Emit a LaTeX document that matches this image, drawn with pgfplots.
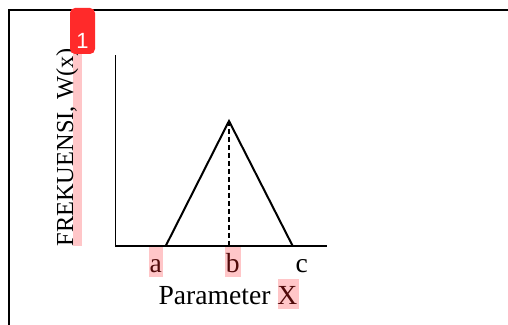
\documentclass[border=0pt]{standalone}
\usepackage{fontspec}
\setmainfont{Liberation Serif}
\newfontfamily\badgefont{Liberation Sans}
\usepackage{pgfplots}
\pgfplotsset{compat=1.18}
\definecolor{hl}{RGB}{255,198,200}
\definecolor{hltext}{RGB}{80,10,10}
\definecolor{badge}{RGB}{255,42,42}

\begin{document}
\begin{tikzpicture}[x=0.5pt,y=-0.5pt]
\useasboundingbox (0,0) rectangle (508,325);
% outer frame (cut off at right and bottom)
\draw[line width=1pt] (9,326) -- (9,10.5) -- (509,10.5);
% highlights behind text
\fill[hl] (73,50) rectangle (82,246);
\fill[hl] (149,247) rectangle (163,277);
\fill[hl] (225,247) rectangle (241,277);
\fill[hl] (278,279) rectangle (299,309);
\coordinate (O) at (115,246);
\begin{axis}[
  at={(O)}, anchor=origin,
  scale only axis,
  width=106pt, height=95.5pt,
  xmin=0, xmax=212, ymin=0, ymax=191,
  axis lines*=left,
  axis line style={-},
  x axis line style={line width=1pt},
  y axis line style={line width=0.5pt},
  ytick=\empty,
  xtick={40.7,117.7,186.7},
  xticklabels={\color{hltext}a,\color{hltext}b,c},
  major tick length=0pt,
  xticklabel style={anchor=base, yshift=-13.3pt, font=\fontsize{13.8}{16}\selectfont},
  xlabel={Parameter \textcolor{hltext}{X}},
  xlabel style={at={(axis description cs:0.533,-0.304)}, anchor=base,
    font=\fontsize{13.8}{16}\selectfont},
  ylabel={FREKUENSI, W(x)},
  ylabel style={at={(axis description cs:-0.198,0.516)}, anchor=base,
    font=\fontsize{12.2}{14}\selectfont},
  clip=false,
]
\addplot[line width=1pt, black] coordinates {(50.7,0) (114,125) (177.7,0)};
\addplot[line width=1pt, black, dash pattern=on 2.4pt off 1.6pt] coordinates {(114,125) (114,0)};
\end{axis}
% annotation badge
\fill[badge, rounded corners=2.5pt] (70,8) rectangle (95,54);
\node[text=white, font=\badgefont\fontsize{11}{12}\selectfont] at (82.5,41) {1};
\end{tikzpicture}
\end{document}
